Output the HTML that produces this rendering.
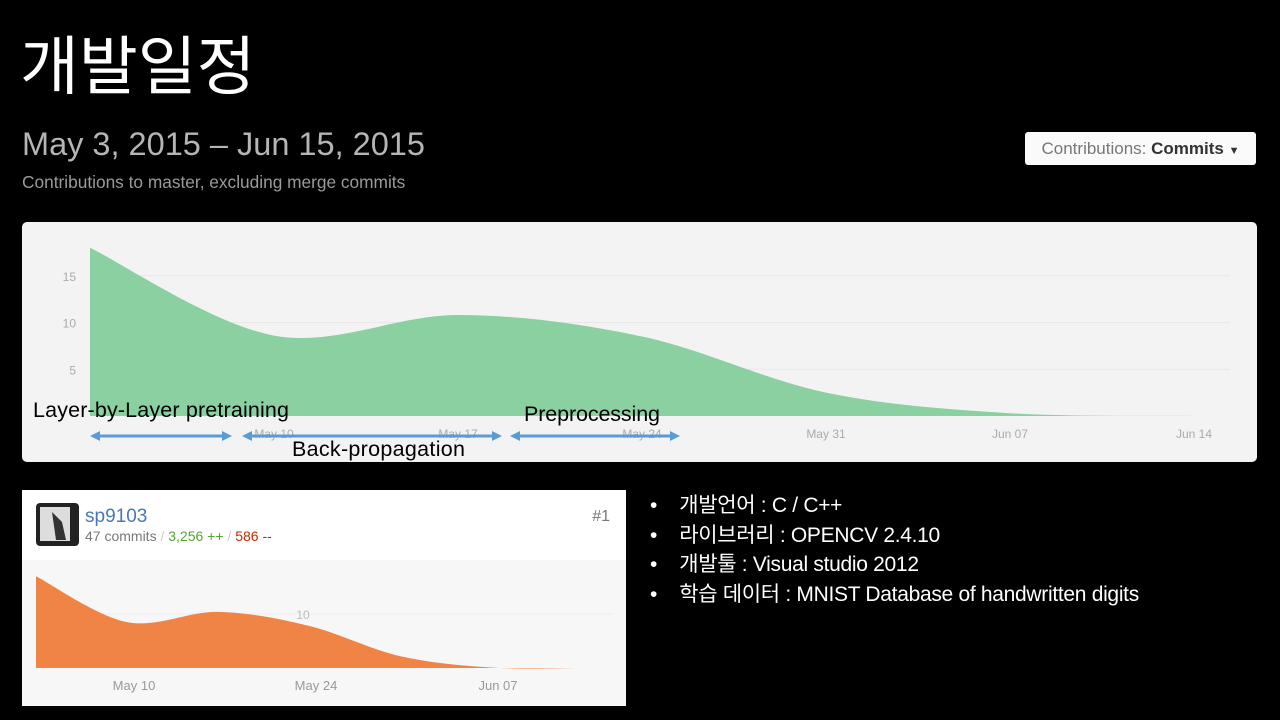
<!DOCTYPE html>
<html><head><meta charset="utf-8">
<style>
body{margin:0;width:1280px;height:720px;background:#000;overflow:hidden;position:relative;font-family:"Liberation Sans","Noto Sans CJK KR",sans-serif}
.abs{position:absolute}
</style></head><body>
<div class="abs" style="left:20px;top:22px;font-size:64px;color:#fff;font-family:'Noto Sans CJK KR',sans-serif;line-height:80px">개발일정</div>
<div class="abs" style="left:22px;top:126px;font-size:32.5px;color:#b5b5b5">May 3, 2015 – Jun 15, 2015</div>
<div class="abs" style="left:22px;top:172px;font-size:17.3px;color:#9a9a9a">Contributions to master, excluding merge commits</div>
<div class="abs" style="left:1025px;top:132px;width:231px;height:33px;background:#fafafa;border-radius:3px;font-size:17px;color:#777;line-height:33px;text-align:center">Contributions: <b style="color:#333">Commits</b> <span style="font-size:11px;color:#333">▼</span></div>

<svg class="abs" style="left:0;top:0" width="1280" height="720">
<rect x="22" y="222" width="1235" height="240" rx="5" fill="#f3f3f3"/>
<g id="main"></g>
<rect x="22" y="490" width="604" height="216" fill="#fff"/>
<rect x="22" y="560" width="604" height="146" fill="#f7f7f7"/>
<g id="sub"></g>
<rect x="36" y="503" width="43" height="43" rx="4" fill="#222"/>
<rect x="40" y="507" width="30" height="34" fill="#ddd"/><path d="M52 512 L56 540 L66 540 L62 522 Z" fill="#333"/>
<text x="85" y="522" font-size="19" fill="#4a78b5">sp9103</text>
<text x="85" y="541" font-size="14" fill="#777">47 commits <tspan fill="#ccc">/</tspan> <tspan fill="#55a532">3,256 ++</tspan> <tspan fill="#ccc">/</tspan> <tspan fill="#bd2c00">586 --</tspan></text>
<text x="610" y="521" font-size="16" fill="#777" text-anchor="end">#1</text>
<g font-family="'Liberation Sans','Noto Sans CJK KR',sans-serif" fill="#000" font-size="21.5">
<text x="33" y="417" textLength="256">Layer-by-Layer pretraining</text>
<text x="292" y="456" textLength="173">Back-propagation</text>
<text x="524" y="421" textLength="136">Preprocessing</text>
</g>
<g id="arrows" fill="#5b9bd5" stroke="#5b9bd5"></g>
</svg>

<div class="abs" style="left:650px;top:491px;color:#fff;font-size:21px;line-height:29.5px;font-family:'Liberation Sans','Noto Sans CJK KR',sans-serif;letter-spacing:-0.3px">
<div>•&nbsp;&nbsp;&nbsp;&nbsp;개발언어 : C / C++</div>
<div>•&nbsp;&nbsp;&nbsp;&nbsp;라이브러리 : OPENCV 2.4.10</div>
<div>•&nbsp;&nbsp;&nbsp;&nbsp;개발툴 : Visual studio 2012</div>
<div>•&nbsp;&nbsp;&nbsp;&nbsp;학습 데이터 : MNIST Database of handwritten digits</div>
</div>

<script>
const weeks=["May 03","May 10","May 17","May 24","May 31","Jun 07","Jun 14"];
const commits=[18,8.6,10.8,8.5,2.5,0.3,0];
const yTicks=[5,10,15];
const subCommits=[17,8.5,10.4,7.8,2.2,0.1,0];
const subLabels=["May 10","May 24","Jun 07"];
const NS="http://www.w3.org/2000/svg";
function mk(t,a,p){const e=document.createElementNS(NS,t);for(const k in a)e.setAttribute(k,a[k]);p.appendChild(e);return e;}
function curve(pts){let d="M"+pts[0][0]+","+pts[0][1];for(let i=0;i<pts.length-1;i++){const p0=pts[i-1]||pts[i],p1=pts[i],p2=pts[i+1],p3=pts[i+2]||p2;
const c1=[p1[0]+(p2[0]-p0[0])/6,p1[1]+(p2[1]-p0[1])/6],c2=[p2[0]-(p3[0]-p1[0])/6,p2[1]-(p3[1]-p1[1])/6];
d+=" C"+c1+" "+c2+" "+p2;}return d;}
const mx=i=>90+i*184,my=v=>416-v*9.35;
const g=document.getElementById("main");
yTicks.forEach(t=>{const l=mk("line",{x1:90,x2:1230,y1:my(t),y2:my(t),stroke:"#e8e8e8"},g);
const tx=mk("text",{x:76,y:my(t)+5,"font-size":12,fill:"#aaa","text-anchor":"end"},g);tx.textContent=t;});
const pts=commits.map((v,i)=>[mx(i),my(v)]);
const a=mk("path",{d:curve(pts)+" L"+mx(6)+","+my(0)+" L"+mx(0)+","+my(0)+"Z",fill:"#8bd0a0"},g);

weeks.forEach((w,i)=>{if(i==0)return;const t=mk("text",{x:mx(i),y:438,"font-size":12,fill:"#aaa","text-anchor":"middle"},g);t.textContent=w;
});
const sx=i=>36+i*91,sy=v=>668-v*5.4;
const s=document.getElementById("sub");
const gl=mk("line",{x1:36,x2:612,y1:sy(10),y2:sy(10),stroke:"#ececec"},s);
const sp=subCommits.map((v,i)=>[sx(i),sy(v)]);
const b=mk("path",{d:curve(sp)+" L"+sx(6)+","+sy(0)+" L"+sx(0)+","+sy(0)+"Z",fill:"#f08445"},s);

const gt=mk("text",{x:303,y:619,"font-size":12,fill:"#bbb","text-anchor":"middle"},s);gt.textContent="10";
subLabels.forEach((l,k)=>{const t=mk("text",{x:sx(1+2*k)+7,y:690,"font-size":13,fill:"#999","text-anchor":"middle"},s);t.textContent=l;});
const ar=document.getElementById("arrows");
[[90,232],[242,502],[510,680]].forEach(([x1,x2])=>{const y=436;
const l=mk("line",{x1:x1+8,x2:x2-8,y1:y,y2:y,"stroke-width":3},ar);
mk("path",{d:`M${x1},${y} L${x1+10},${y-5} L${x1+10},${y+5}Z M${x2},${y} L${x2-10},${y-5} L${x2-10},${y+5}Z`,stroke:"none"},ar);});
</script>
</body></html>
